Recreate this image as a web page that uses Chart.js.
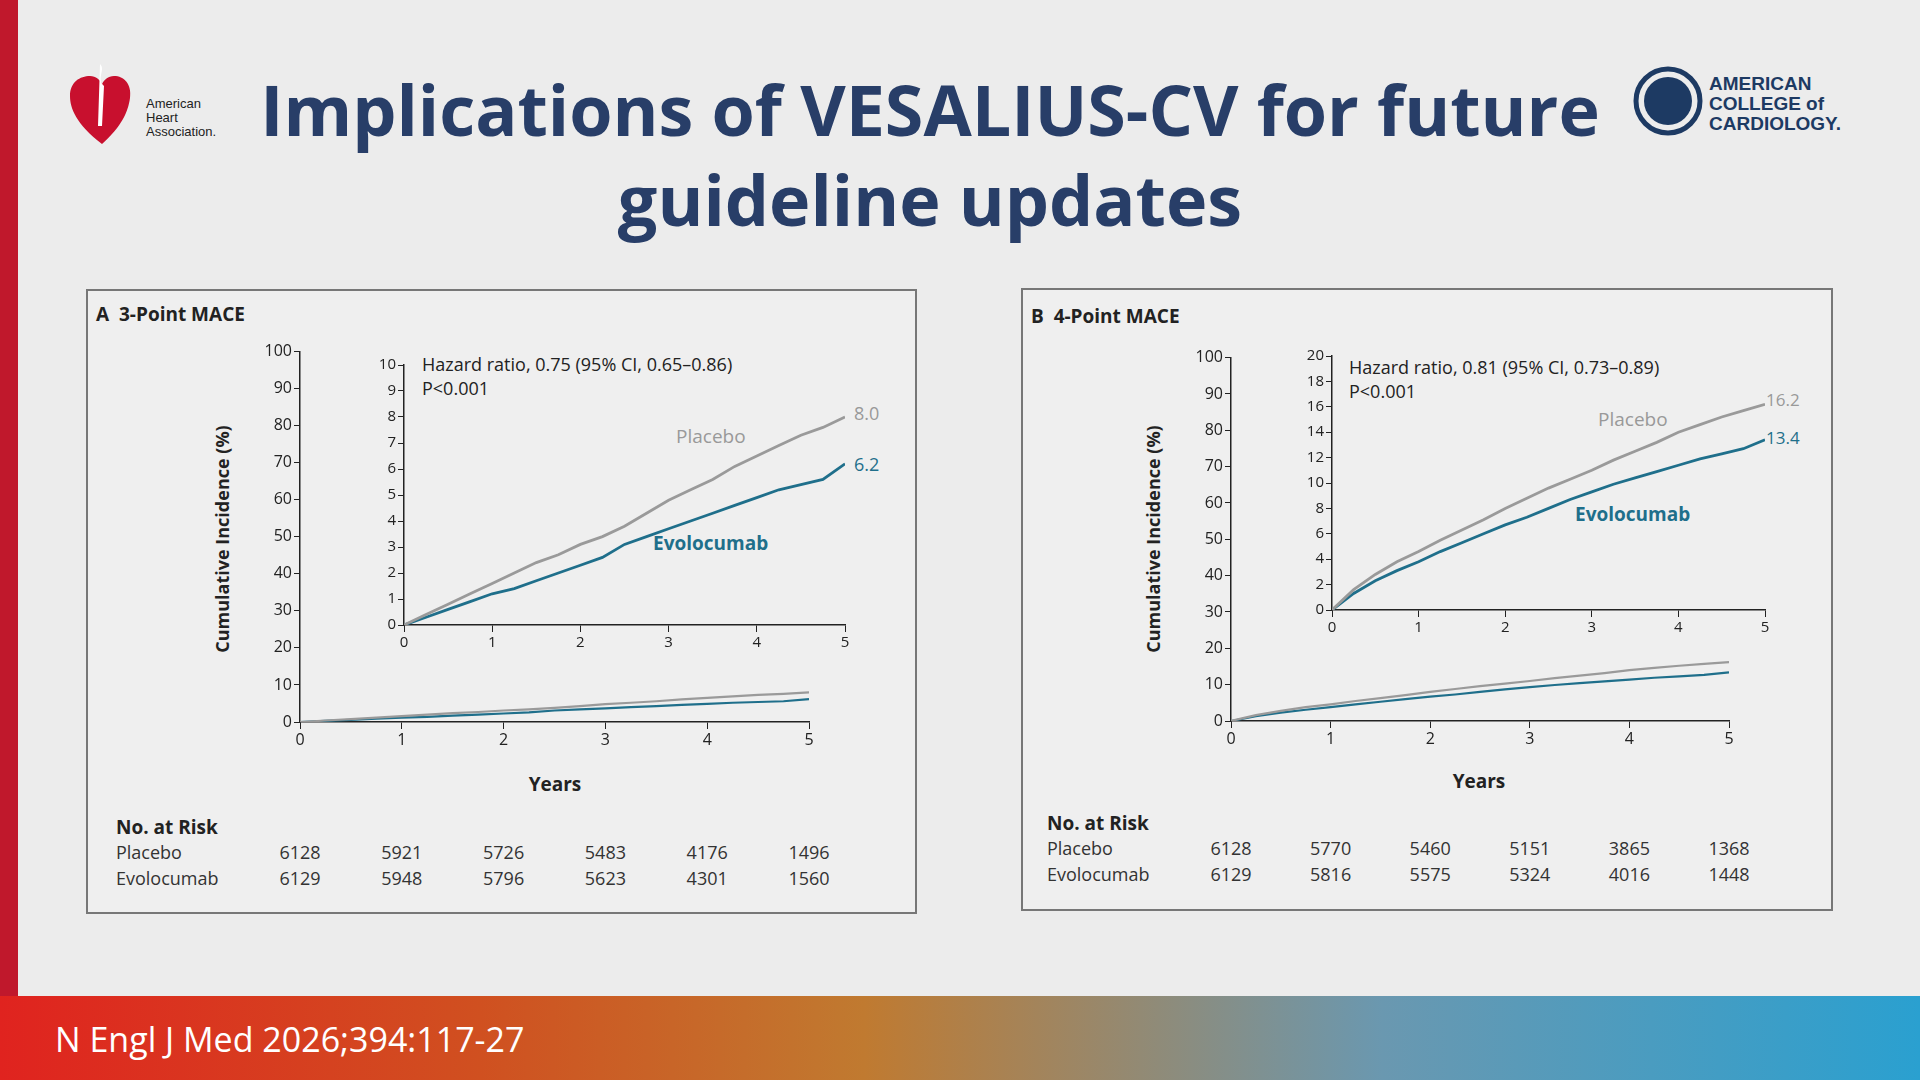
<!DOCTYPE html>
<html><head><meta charset="utf-8">
<script src="https://cdn.jsdelivr.net/npm/chart.js@4"></script>
<style>
body{margin:0;width:1920px;height:1080px;background:#ececec;position:relative;overflow:hidden;font-family:"Open Sans",sans-serif}
.abs{position:absolute}
.lbar{left:0;top:0;width:18px;height:996px;background:#c0182c}
.band{left:0;top:996px;width:1920px;height:84px;background:linear-gradient(90deg,#e0231f 0%,#d05020 25%,#c07a30 45%,#6a98b0 72%,#2aa0d0 100%)}
.title{left:240px;width:1380px;top:64px;text-align:center;color:#283e68;font-weight:700;font-size:70px;line-height:90px}
.panel{border:2px solid #777;background:#efefef}
.t{position:absolute;white-space:nowrap;color:#222}
canvas{position:absolute}
</style></head><body>
<div class="abs lbar"></div>
<div class="abs band"></div>
<div class="t" style="left:55px;top:1016px;font-size:34px;color:#fff">N Engl J Med 2026;394:117-27</div>
<div class="abs title">Implications of VESALIUS-CV for future<br>guideline updates</div>
<svg class="abs" style="left:66px;top:56px" width="170" height="95">
<path d="M36 88 C10 68 4 52 4 40 C4 26 14 20 24 20 C30 20 34 24 36 28 C38 24 42 20 48 20 C58 20 66 28 64 42 C62 56 56 70 36 88Z" fill="#c8102e"/>
<path d="M34 8 C40 14 30 22 38 30 L36 70 L32 70 Z" fill="#fff"/>
<text x="80" y="52" font-size="13" font-family="Arial" fill="#222">American</text>
<text x="80" y="66" font-size="13" font-family="Arial" fill="#222">Heart</text>
<text x="80" y="80" font-size="13" font-family="Arial" fill="#222">Association.</text>
</svg>
<svg class="abs" style="left:1633px;top:66px" width="230" height="72">
<circle cx="35" cy="35" r="32" fill="none" stroke="#1d3a63" stroke-width="5"/>
<circle cx="35" cy="35" r="24" fill="#1d3a63"/>
<text x="76" y="24" font-size="19" font-family="Arial" font-weight="bold" fill="#1d3a63">AMERICAN</text>
<text x="76" y="44" font-size="19" font-family="Arial" font-weight="bold" fill="#1d3a63">COLLEGE of</text>
<text x="76" y="64" font-size="19" font-family="Arial" font-weight="bold" fill="#1d3a63">CARDIOLOGY.</text>
</svg>
<div class="abs panel" style="left:86px;top:289px;width:827px;height:621px"></div>
<div class="abs panel" style="left:1021px;top:288px;width:808px;height:619px"></div>

<div class="t" style="left:96px;top:301px;font-size:19px;font-weight:700">A&nbsp;&nbsp;3-Point MACE</div>
<div class="t" style="left:1031px;top:303px;font-size:19px;font-weight:700">B&nbsp;&nbsp;4-Point MACE</div>
<div class="t" style="left:422px;top:352px;font-size:18px">Hazard ratio, 0.75 (95% CI, 0.65–0.86)<br>P&lt;0.001</div>
<div class="t" style="left:1349px;top:355px;font-size:18px">Hazard ratio, 0.81 (95% CI, 0.73–0.89)<br>P&lt;0.001</div>
<div class="t" style="left:676px;top:423px;font-size:19px;color:#999">Placebo</div>
<div class="t" style="left:653px;top:530px;font-size:19px;color:#1f6f8b;font-weight:700">Evolocumab</div>
<div class="t" style="left:854px;top:401px;font-size:18px;color:#999">8.0</div>
<div class="t" style="left:854px;top:452px;font-size:18px;color:#1f6f8b">6.2</div>
<div class="t" style="left:1598px;top:406px;font-size:19px;color:#999">Placebo</div>
<div class="t" style="left:1575px;top:501px;font-size:19px;color:#1f6f8b;font-weight:700">Evolocumab</div>
<div class="t" style="left:1766px;top:388px;font-size:17px;color:#999">16.2</div>
<div class="t" style="left:1766px;top:426px;font-size:17px;color:#1f6f8b">13.4</div>
<div class="t" style="left:222px;top:539px;font-size:18px;font-weight:700;transform:translate(-50%,-50%) rotate(-90deg)">Cumulative Incidence (%)</div>
<div class="t" style="left:1153px;top:539px;font-size:18px;font-weight:700;transform:translate(-50%,-50%) rotate(-90deg)">Cumulative Incidence (%)</div>
<div class="t" style="left:555px;top:784px;font-size:19px;font-weight:700;transform:translate(-50%,-50%)">Years</div>
<div class="t" style="left:1479px;top:781px;font-size:19px;font-weight:700;transform:translate(-50%,-50%)">Years</div>
<div id="riskA"></div><div id="riskB"></div>

<canvas id="mA"></canvas><canvas id="iA"></canvas><canvas id="mB"></canvas><canvas id="iB"></canvas>
<script>
const yearsA = [0,0.25,0.5,0.75,1,1.25,1.5,1.75,2,2.25,2.5,2.75,3,3.25,3.5,3.75,4,4.25,4.5,4.75,5];
const placeboA = [0,0.4,0.8,1.2,1.6,2.0,2.4,2.7,3.1,3.4,3.8,4.3,4.8,5.2,5.6,6.1,6.5,6.9,7.3,7.6,8.0];
const evoA =     [0,0.3,0.6,0.9,1.2,1.4,1.7,2.0,2.3,2.6,3.1,3.4,3.7,4.0,4.3,4.6,4.9,5.2,5.4,5.6,6.2];
const yearsB = [0,0.25,0.5,0.75,1,1.25,1.5,1.75,2,2.25,2.5,2.75,3,3.25,3.5,3.75,4,4.25,4.5,4.75,5];
const placeboB = [0,1.6,2.8,3.8,4.6,5.5,6.3,7.1,8.0,8.8,9.6,10.3,11.0,11.8,12.5,13.2,14.0,14.6,15.2,15.7,16.2];
const evoB =     [0,1.3,2.3,3.1,3.8,4.6,5.3,6.0,6.7,7.3,8.0,8.7,9.3,9.9,10.4,10.9,11.4,11.9,12.3,12.7,13.4];
const riskYears = [0,1,2,3,4,5];
const riskPlaceboA = [6128,5921,5726,5483,4176,1496];
const riskEvoA = [6129,5948,5796,5623,4301,1560];
const riskPlaceboB = [6128,5770,5460,5151,3865,1368];
const riskEvoB = [6129,5816,5575,5324,4016,1448];
const GRAY='#9a9a9a', TEAL='#1f6f8b';

function pts(xs,ys){return xs.map((x,i)=>({x:x,y:ys[i]}));}
function make(id,area,xs,p,e,ymax,step,fs,lw){
  const W=40,H=30,PT=10,PR=12;
  const c=document.getElementById(id);
  const w=area.r-area.l+W+PR, h=area.b-area.t+H+PT;
  c.width=w;c.height=h;c.style.left=(area.l-W)+'px';c.style.top=(area.t-PT)+'px';
  c.style.width=w+'px';c.style.height=h+'px';
  const font={family:'Open Sans',size:fs};
  new Chart(c,{type:'line',data:{datasets:[
    {data:pts(xs,p),borderColor:GRAY,borderWidth:lw,pointRadius:0,tension:0},
    {data:pts(xs,e),borderColor:TEAL,borderWidth:lw,pointRadius:0,tension:0}]},
    options:{responsive:false,animation:false,devicePixelRatio:1,layout:{padding:{top:PT,right:PR,left:0,bottom:0}},
    plugins:{legend:{display:false},tooltip:{enabled:false}},
    scales:{
      x:{type:'linear',min:0,max:5,ticks:{stepSize:1,color:'#222',font:font,padding:2},grid:{drawOnChartArea:false,tickLength:7,color:'#222'},border:{color:'#222',width:1.5},afterFit:s=>{s.height=H;}},
      y:{min:0,max:ymax,ticks:{stepSize:step,color:'#222',font:font,padding:2},grid:{drawOnChartArea:false,tickLength:6,color:'#222'},border:{color:'#222',width:1.5},afterFit:s=>{s.width=W;}}
    }}});
}
make('mA',{l:300,r:809,t:350,b:722},yearsA,placeboA,evoA,100,10,16,2.2);
make('iA',{l:404,r:845,t:364,b:625},yearsA,placeboA,evoA,10,1,15,2.8);
make('mB',{l:1231,r:1729,t:356,b:721},yearsB,placeboB,evoB,100,10,16,2.2);
make('iB',{l:1332,r:1765,t:355,b:610},yearsB,placeboB,evoB,20,2,15,2.8);

function risk(id,x0,x1,top,pl,ev){
  const d=document.getElementById(id);
  let h=`<div class="t" style="left:${x0-184}px;top:${top}px;font-size:19px;font-weight:700">No. at Risk</div>`;
  h+=`<div class="t" style="left:${x0-184}px;top:${top+26}px;font-size:18px;color:#333">Placebo</div>`;
  h+=`<div class="t" style="left:${x0-184}px;top:${top+52}px;font-size:18px;color:#333">Evolocumab</div>`;
  riskYears.forEach((y,i)=>{const x=x0+(x1-x0)*y/5;
    h+=`<div class="t" style="left:${x}px;top:${top+26}px;font-size:18px;color:#333;transform:translateX(-50%)">${pl[i]}</div>`;
    h+=`<div class="t" style="left:${x}px;top:${top+52}px;font-size:18px;color:#333;transform:translateX(-50%)">${ev[i]}</div>`;});
  d.innerHTML=h;
}
risk('riskA',300,809,814,riskPlaceboA,riskEvoA);
risk('riskB',1231,1729,810,riskPlaceboB,riskEvoB);
</script>
</body></html>
